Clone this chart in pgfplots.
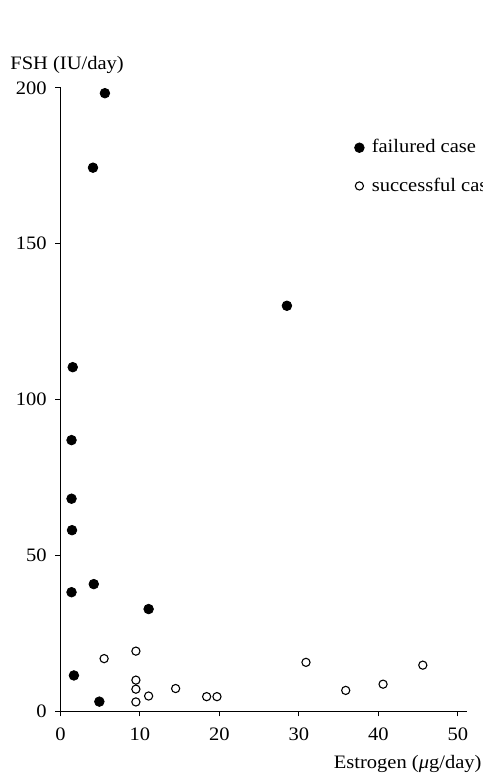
\documentclass[border=0pt]{standalone}
\usepackage{fontspec}
\setmainfont{Liberation Serif}[FakeStretch=1.08]
\usepackage{pgfplots}
\pgfplotsset{compat=1.18}
\begin{document}
\fontsize{9.5}{11}\selectfont
\begin{tikzpicture}
\begin{axis}[
  x=3.975pt, y=1.559pt,
  xmin=0, xmax=51.1, ymin=0, ymax=200.3,
  axis lines=left,
  axis line style={-, line width=0.5pt},
  tick style={line width=0.5pt, black},
  xtick={0,10,20,30,40,50},
  ytick={0,50,100,150,200},
  tick align=outside,
  major tick length=2.5pt,
  /pgf/number format/assume math mode=true,
  ticklabel style={font=\fontsize{9.5}{11}\selectfont},
  xticklabel style={yshift=-2.5pt},
  yticklabel style={xshift=-1pt},
  clip=false,
  legend style={at={(axis cs:36.43,184.5)}, anchor=north west, draw=none, fill=none,
    font=\fontsize{9.5}{11}\selectfont, row sep=8pt, inner sep=0pt,
    nodes={inner sep=1.5pt}},
  legend cell align=left,
  legend image code/.code={\path (0cm,0cm) (0.305cm,0cm);
    \draw[mark repeat=2,mark phase=2,#1] plot coordinates {(0cm,0cm)(0.15cm,0cm)(0.3cm,0cm)};},
]
\addplot[only marks, mark=*, mark size=2.4pt, draw=black, fill=black, line width=0.4pt]
coordinates {
(5.6,198.3) (4.1,174.4) (1.55,110.4) (1.4,87.0) (1.4,68.2) (1.46,58.1)
(1.4,38.2) (4.2,40.8) (11.1,32.8) (1.7,11.5) (4.9,3.1) (28.5,130.1)
};
\addlegendentry{failured case}
\addplot[only marks, mark=o, mark size=2.05pt, draw=black, line width=0.55pt]
coordinates {
(5.5,16.9) (9.5,19.3) (9.5,10.0) (9.5,7.1) (9.5,3.0) (11.1,4.9)
(14.5,7.3) (18.4,4.7) (19.7,4.7) (30.9,15.7) (35.9,6.7) (40.6,8.7) (45.6,14.8)
};
\addlegendentry{successful case}
\node[anchor=base west, inner sep=0pt] at (axis cs:-6.34,206.0) {FSH (IU/day)};
\node[anchor=base east, inner sep=0pt] at (axis cs:53.03,-18.5) {Estrogen (\textit{μ}g/day)};
\coordinate (bl) at (axis cs:-7.6,-20.76);
\coordinate (tr) at (axis cs:53.16,228.2);
\end{axis}
\pgfresetboundingbox
\path[use as bounding box] (bl) rectangle (tr);
\end{tikzpicture}
\end{document}
